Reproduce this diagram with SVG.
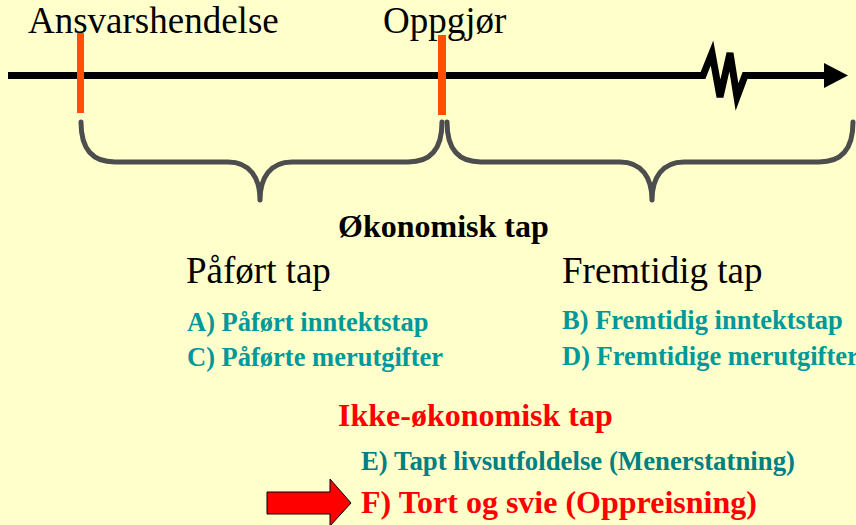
<svg xmlns="http://www.w3.org/2000/svg" width="856" height="525" viewBox="0 0 856 525">
<style>
.serif{font-family:"Liberation Serif","Times New Roman",serif}
.big{font-size:37px;fill:#000}
.head{font-size:37px;fill:#000}
.item{font-size:26.5px;font-weight:bold;fill:#009999}
.brace{fill:none;stroke:#4D4D4D;stroke-width:5;stroke-linecap:round;stroke-linejoin:round}
.mark{fill:#FF5000}
</style>
<rect width="856" height="525" fill="#FFFFCC"/>
<g id="timeline">
<polyline points="8,75.5 703,75.5 712,53 720,97 730,53 737,97 745,75.5 826,75.5" fill="none" stroke="#000" stroke-width="7" stroke-linejoin="miter"/>
<polygon points="824,63 848,75.5 824,88" fill="#000"/>
</g>
<g id="markers">
<rect class="mark" x="77" y="33" width="7" height="80"/>
<rect class="mark" x="438" y="35" width="8" height="80"/>
</g>
<g id="braces">
<path class="brace" d="M81,122 C81,150 93,162 115,162 L228,162 C250,162 260,178 260,200 C260,178 270,162 292,162 L408,162 C430,162 442,150 442,122"/>
<path class="brace" d="M447,122 C447,150 459,162 481,162 L620,162 C642,162 652,178 652,200 C652,178 662,162 684,162 L819,162 C841,162 853,150 853,122"/>
</g>
<g id="labels-top">
<text class="serif big" x="28" y="33">Ansvarshendelse</text>
<text class="serif big" x="383" y="33">Oppgjør</text>
</g>
<g id="okonomisk">
<text class="serif" x="338" y="237" font-size="32" font-weight="bold" fill="#000">Økonomisk tap</text>
</g>
<g id="pafort">
<text class="serif head" x="186" y="283">Påført tap</text>
<text class="serif item" x="187" y="331">A) Påført inntektstap</text>
<text class="serif item" x="187" y="366">C) Påførte merutgifter</text>
</g>
<g id="fremtidig">
<text class="serif head" x="562" y="283">Fremtidig tap</text>
<text class="serif item" x="562" y="329">B) Fremtidig inntektstap</text>
<text class="serif item" x="562" y="365">D) Fremtidige merutgifter</text>
</g>
<g id="ikke-okonomisk">
<text class="serif" x="338" y="426" font-size="32" font-weight="bold" fill="#FF0000">Ikke-økonomisk tap</text>
<text class="serif item" x="361" y="470" style="fill:#008080;font-size:26.8px">E) Tapt livsutfoldelse (Menerstatning)</text>
<text class="serif" x="361" y="513" font-size="32" font-weight="bold" fill="#FF0000">F) Tort og svie (Oppreisning)</text>
</g>
<g id="pointer">
<polygon points="267,492 330,492 330,479 351,503 330,526 330,514 267,514" fill="#FF0000" stroke="#000" stroke-width="1"/>
</g>
</svg>
